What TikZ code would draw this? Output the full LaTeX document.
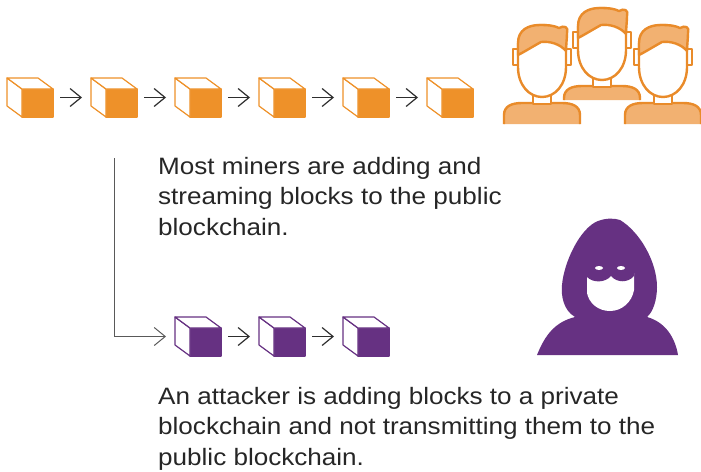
\documentclass[tikz,border=0pt]{standalone}
\usepackage{fontspec}
\newfontfamily\notefont{Liberation Sans}[FakeStretch=1.1]
\usepackage{xcolor}
\usepackage{tikz}
\usetikzlibrary{arrows.meta,positioning}

\definecolor{minerorange}{HTML}{EE9129}
\definecolor{hairorange}{HTML}{F2B171}
\definecolor{lineorange}{HTML}{E98B2A}
\definecolor{attackpurple}{HTML}{663182}
\definecolor{linkgray}{HTML}{2E2E2E}

\tikzset{
  block/.style={minimum width=46pt,minimum height=39pt,inner sep=0pt,outer sep=0pt},
  link/.style={draw=linkgray,line width=1.2pt,-{Straight Barb[length=11pt,width=18pt]},
    shorten <=7pt,shorten >=9pt},
  note/.style={anchor=north west,inner sep=0pt,align=left,text=black!85,
    font=\notefont\fontsize{23.7}{30.5}\selectfont},
  icon/.style={draw=lineorange,line width=2.4pt,line join=round},
}

% cube over a block node: front face filled, side and top white
\newcommand{\drawcube}[2]{%
  \begin{scope}[shift={(#1.south west)},draw=#2,line width=1.2pt,line join=round]
    \filldraw[fill=#2] (15,0) rectangle (46,-28);
    \filldraw[fill=white] (15,0) -- (0,-11) -- (0,-39) -- (15,-28) -- cycle;
    \filldraw[fill=white] (0,-39) -- (31,-39) -- (46,-28) -- (15,-28) -- cycle;
  \end{scope}}

% one miner, chin at (#1,#2), shoulders cut at depth #3
\newcommand{\miner}[3]{%
  \begin{scope}[shift={(#1,#2)}]
    \filldraw[icon,fill=hairorange] (-38,#3) -- (-38,18) .. controls (-38,9) and (-30,6) .. (-20,6)
      -- (20,6) .. controls (30,6) and (38,9) .. (38,18) -- (38,#3);
    \filldraw[icon,fill=white] (-9,-3) rectangle (9,7);
    \filldraw[icon,fill=white] (-29,-48) rectangle (-24,-32);
    \filldraw[icon,fill=white] (29,-48) rectangle (24,-32);
    \filldraw[icon,fill=white] (-24,-30) -- (-24,-52) .. controls (-24,-66) and (-13,-72) .. (0,-72)
      .. controls (13,-72) and (24,-66) .. (24,-52) -- (24,-30)
      .. controls (24,-12) and (13,0) .. (0,0) .. controls (-13,0) and (-24,-12) .. (-24,-30) -- cycle;
    \filldraw[icon,fill=hairorange] (-24,-42) -- (-24,-54) .. controls (-24,-67) and (-14,-72) .. (-2,-72)
      .. controls (8,-72) and (13,-71) .. (17,-69) .. controls (22,-72) and (27,-70) .. (25,-64)
      .. controls (25,-58) and (24,-52) .. (24,-46) .. controls (18,-53) and (8,-56) .. (-1,-55)
      .. controls (-10,-50) and (-18,-45) .. (-24,-42) -- cycle;
  \end{scope}}

\begin{document}
\begin{tikzpicture}[x=1pt,y=-1pt,node distance=38pt]
  \useasboundingbox (0,0) rectangle (701,471);

  % public chain
  \node[block] (pub1) at (30,97.5) {};
  \node[block,right=of pub1] (pub2) {};
  \node[block,right=of pub2] (pub3) {};
  \node[block,right=of pub3] (pub4) {};
  \node[block,right=of pub4] (pub5) {};
  \node[block,right=of pub5] (pub6) {};
  \foreach \i in {1,...,6} {\drawcube{pub\i}{minerorange}}
  \foreach \i/\j in {1/2,2/3,3/4,4/5,5/6} {\draw[link] (pub\i) -- (pub\j);}

  % private chain
  \node[block,below=200pt of pub3] (prv1) {};
  \node[block,right=of prv1] (prv2) {};
  \node[block,right=of prv2] (prv3) {};
  \foreach \i in {1,2,3} {\drawcube{prv\i}{attackpurple}}
  \draw[link] (prv1) -- (prv2);
  \draw[link] (prv2) -- (prv3);

  \coordinate (fork) at (114,158);
  \draw[link,draw=gray!70!black,line width=1pt,shorten <=0pt] (fork) |- (prv1);

  \node[note] (honest) at (158,157) {Most miners are adding and\\streaming blocks to the public\\blockchain.};
  \node[note] (attack) at (158,387) {An attacker is adding blocks to a private\\blockchain and not transmitting them to the\\public blockchain.};

  % miners
  \miner{602}{80}{20}
  \miner{542}{97}{27}
  \miner{663}{97}{27}

  % attacker
  \fill[attackpurple] (537,355) .. controls (545,335) and (555,322) .. (575,317)
    .. controls (563,310) and (561,295) .. (562,285) .. controls (564,262) and (580,228) .. (598,221)
    .. controls (606,218) and (614,218) .. (620,220) .. controls (640,232) and (657,262) .. (657,287)
    .. controls (657,300) and (653,312) .. (647,317) .. controls (665,322) and (675,337) .. (678,355) -- cycle;
  \fill[white] (587,273) -- (634,273) -- (634,290) .. controls (632,302) and (622,311) .. (610,311)
    .. controls (598,311) and (589,303) .. (587,293) -- cycle;
  \fill[attackpurple] (587,272) -- (634,272) -- (634,276) .. controls (628,283) and (617,283) .. (611,276)
    .. controls (605,283) and (593,283) .. (587,277) -- cycle;
  \fill[white] (599,268) ellipse[x radius=4,y radius=2];
  \fill[white] (621,268) ellipse[x radius=4,y radius=2];
\end{tikzpicture}
\end{document}
